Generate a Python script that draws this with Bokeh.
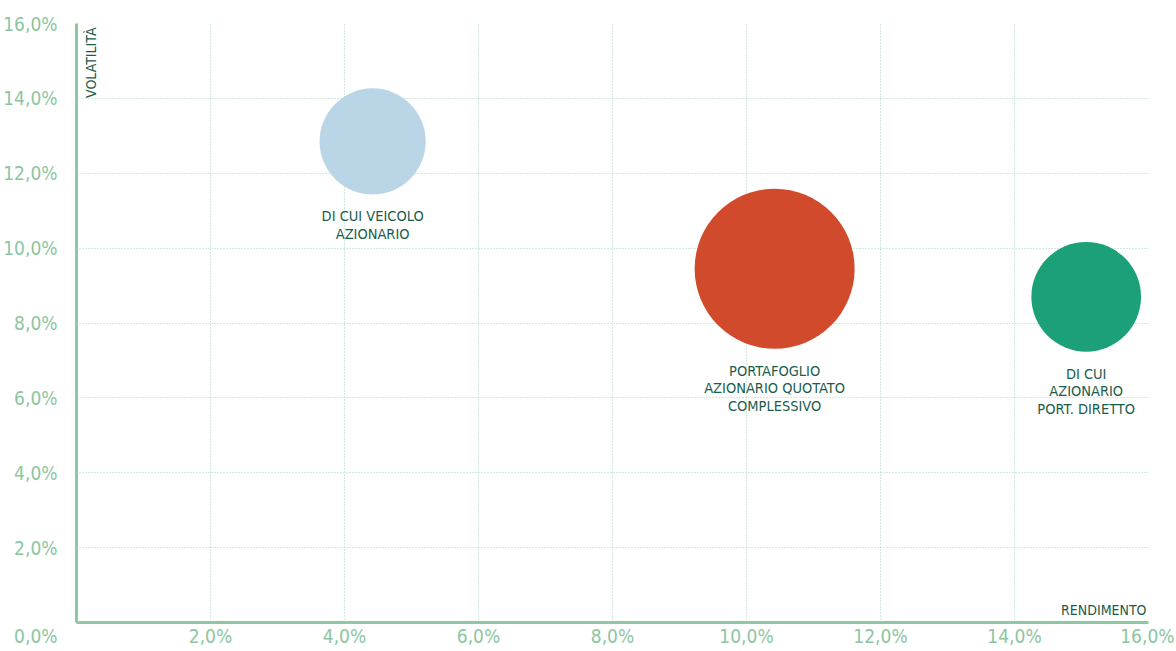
from bokeh.plotting import figure
from bokeh.models import ColumnDataSource, Label, FixedTicker, Range1d
from bokeh.embed import file_html
from bokeh.resources import INLINE
import math

# ---- data ----
nomi = ["DI CUI VEICOLO\nAZIONARIO",
        "PORTAFOGLIO\nAZIONARIO QUOTATO\nCOMPLESSIVO",
        "DI CUI\nAZIONARIO\nPORT. DIRETTO"]
rendimento = [4.42, 10.42, 15.07]      # %
volatilita = [12.85, 9.45, 8.7]        # %
peso = [44, 100, 47]                   # relative bubble weight
colori = ["#bad6e6", "#d04a2b", "#1ba07a"]
ticks = [0, 2, 4, 6, 8, 10, 12, 14, 16]
tick_labels = {t: f"{t:.1f}".replace(".", ",") + "%" for t in ticks}

FONT = "DejaVu Sans Condensed, sans-serif"
TICK_COL = "#8cc6a0"
AXIS_COL = "#8ec8a2"
TXT_COL = "#1a5d4a"
GRID_COL = "#a9d3bb"

scale = 16.0
sizes = [math.sqrt(w) * scale for w in peso]
src = ColumnDataSource(dict(x=rendimento, y=volatilita, size=sizes, color=colori))

p = figure(frame_width=1072, frame_height=599, output_backend="svg", toolbar_location=None,
           x_range=Range1d(0, 16), y_range=Range1d(0, 16),
           min_border_left=74, min_border_top=23, min_border_right=26, min_border_bottom=26)
p.outline_line_color = None
p.background_fill_color = "white"
p.border_fill_color = "white"

for ax in (p.xaxis[0], p.yaxis[0]):
    ax.ticker = FixedTicker(ticks=ticks)
    ax.major_tick_line_color = None
    ax.minor_tick_line_color = None
    ax.axis_line_color = AXIS_COL
    ax.axis_line_width = 3
    ax.major_label_text_font = FONT
    ax.major_label_text_font_size = "19px"
    ax.major_label_text_color = TICK_COL
p.xaxis[0].major_label_overrides = {t: ("" if t == 0 else s) for t, s in tick_labels.items()}
p.yaxis[0].major_label_overrides = {t: ("\n" + s if t == 0 else s) for t, s in tick_labels.items()}
p.xaxis[0].major_label_standoff = -4
p.yaxis[0].major_label_standoff = 13

for g in (p.xgrid[0], p.ygrid[0]):
    g.ticker = FixedTicker(ticks=ticks[1:])
    g.grid_line_color = GRID_COL
    g.grid_line_dash = "1 2"
    g.grid_line_width = 1

p.scatter("x", "y", size="size", fill_color="color", line_color=None, source=src)

for x, y, lab, s in zip(rendimento, volatilita, nomi, sizes):
    p.add_layout(Label(x=x, y=y, text=lab, y_offset=-(s / 2 + 14), text_align="center",
                       text_baseline="top", text_font=FONT, text_font_size="14.5px",
                       text_color=TXT_COL, text_line_height=1.1))

p.add_layout(Label(x=16, y=0, text="RENDIMENTO", x_offset=-2, y_offset=5,
                   text_align="right", text_baseline="bottom", text_font=FONT,
                   text_font_size="14px", text_color=TXT_COL))
p.add_layout(Label(x=0, y=16, text="VOLATILITÀ", x_offset=6, y_offset=-4,
                   angle=math.pi / 2, text_align="right", text_baseline="top",
                   text_font=FONT, text_font_size="14px", text_color=TXT_COL))

open("out.html", "w").write(file_html(p, INLINE))
